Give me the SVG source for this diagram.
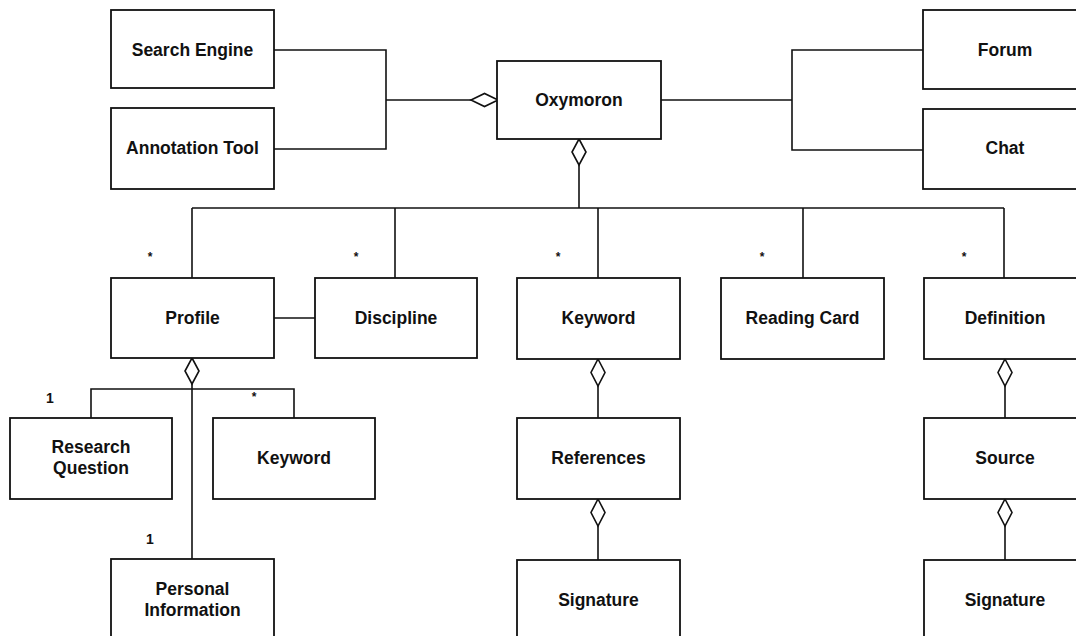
<svg xmlns="http://www.w3.org/2000/svg" width="1076" height="636" viewBox="0 0 1076 636">
<defs>
<style>
.box{fill:#fff;stroke:#111;stroke-width:1.8}
.t{font-family:"Liberation Sans",Arial,Helvetica,sans-serif;font-weight:bold;font-size:17.5px;fill:#111;text-anchor:middle}
.m{font-family:"Liberation Sans",Arial,Helvetica,sans-serif;font-weight:bold;font-size:14px;fill:#111;text-anchor:middle}
.s{font-family:"Liberation Sans",Arial,Helvetica,sans-serif;font-weight:bold;font-size:12px;fill:#111;text-anchor:middle}
.c{fill:none;stroke:#111;stroke-width:1.6}
.d{fill:#fff;stroke:#111;stroke-width:1.6}
</style>
</defs>
<rect width="1076" height="636" fill="#fff"/>
<g id="connectors">
<polyline class="c" points="274,50 386,50 386,149 274,149"/>
<line class="c" x1="386" y1="100" x2="471" y2="100"/>
<polyline class="c" points="661,100 792,100"/>
<polyline class="c" points="923,50 792,50 792,150 923,150"/>
<line class="c" x1="579" y1="165" x2="579" y2="208"/>
<line class="c" x1="192" y1="208" x2="1004" y2="208"/>
<line class="c" x1="192" y1="208" x2="192" y2="278"/>
<line class="c" x1="395" y1="208" x2="395" y2="278"/>
<line class="c" x1="598" y1="208" x2="598" y2="278"/>
<line class="c" x1="803" y1="208" x2="803" y2="278"/>
<line class="c" x1="1004" y1="208" x2="1004" y2="278"/>
<line class="c" x1="274" y1="318" x2="315" y2="318"/>
<line class="c" x1="192" y1="384" x2="192" y2="559"/>
<polyline class="c" points="91,418 91,389 294,389 294,418"/>
<line class="c" x1="598" y1="386" x2="598" y2="418"/>
<line class="c" x1="598" y1="526" x2="598" y2="560"/>
<line class="c" x1="1005" y1="386" x2="1005" y2="418"/>
<line class="c" x1="1005" y1="526" x2="1005" y2="560"/>
<polygon class="d" points="498,100 484.5,93.5 471,100 484.5,106.5"/>
<polygon class="d" points="579,139 586,152 579,165 572,152"/>
<polygon class="d" points="192,358 199,371 192,384 185,371"/>
<polygon class="d" points="598,359 605,372.5 598,386 591,372.5"/>
<polygon class="d" points="1005,359 1012,372.5 1005,386 998,372.5"/>
<polygon class="d" points="598,499 605,512.5 598,526 591,512.5"/>
<polygon class="d" points="1005,499 1012,512.5 1005,526 998,512.5"/>
<text class="s" x="150" y="261">*</text>
<text class="s" x="356" y="261">*</text>
<text class="s" x="558" y="261">*</text>
<text class="s" x="762" y="261">*</text>
<text class="s" x="964" y="261">*</text>
<text class="s" x="254" y="401">*</text>
<text class="m" x="50" y="403">1</text>
<text class="m" x="150" y="544">1</text>
</g>
<g id="search-engine"><rect class="box" x="111" y="10" width="163" height="78"/><text class="t" x="192.5" y="56">Search Engine</text></g>
<g id="annotation-tool"><rect class="box" x="111" y="108" width="163" height="81"/><text class="t" x="192.5" y="154">Annotation Tool</text></g>
<g id="oxymoron"><rect class="box" x="497" y="61" width="164" height="78"/><text class="t" x="579" y="106">Oxymoron</text></g>
<g id="forum"><rect class="box" x="923" y="10" width="170" height="79"/><text class="t" x="1005" y="56">Forum</text></g>
<g id="chat"><rect class="box" x="923" y="109" width="170" height="80"/><text class="t" x="1005" y="154">Chat</text></g>
<g id="profile"><rect class="box" x="111" y="278" width="163" height="80"/><text class="t" x="192.5" y="324">Profile</text></g>
<g id="discipline"><rect class="box" x="315" y="278" width="162" height="80"/><text class="t" x="396" y="324">Discipline</text></g>
<g id="keyword"><rect class="box" x="517" y="278" width="163" height="81"/><text class="t" x="598.5" y="324">Keyword</text></g>
<g id="reading-card"><rect class="box" x="721" y="278" width="163" height="81"/><text class="t" x="802.5" y="324">Reading Card</text></g>
<g id="definition"><rect class="box" x="924" y="278" width="170" height="81"/><text class="t" x="1005" y="324">Definition</text></g>
<g id="research-question"><rect class="box" x="10" y="418" width="162" height="81"/><text class="t" x="91" y="453">Research</text><text class="t" x="91" y="474">Question</text></g>
<g id="profile-keyword"><rect class="box" x="213" y="418" width="162" height="81"/><text class="t" x="294" y="464">Keyword</text></g>
<g id="references"><rect class="box" x="517" y="418" width="163" height="81"/><text class="t" x="598.5" y="464">References</text></g>
<g id="source"><rect class="box" x="924" y="418" width="170" height="81"/><text class="t" x="1005" y="464">Source</text></g>
<g id="personal-information"><rect class="box" x="111" y="559" width="163" height="90"/><text class="t" x="192.5" y="595">Personal</text><text class="t" x="192.5" y="616">Information</text></g>
<g id="signature-references"><rect class="box" x="517" y="560" width="163" height="90"/><text class="t" x="598.5" y="606">Signature</text></g>
<g id="signature-source"><rect class="box" x="924" y="560" width="170" height="90"/><text class="t" x="1005" y="606">Signature</text></g>
</svg>
